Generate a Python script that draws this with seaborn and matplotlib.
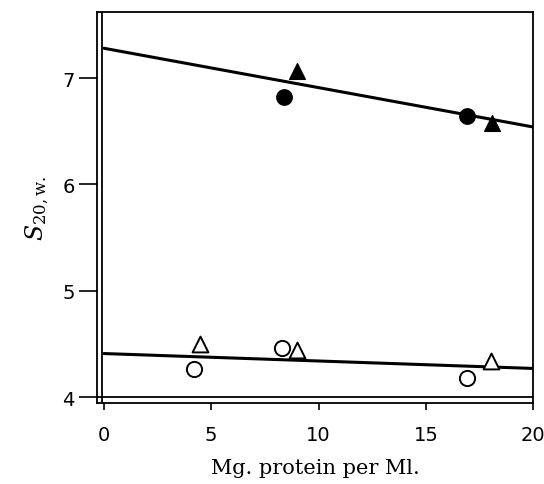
import matplotlib
matplotlib.use("Agg")
import matplotlib.pyplot as plt
import seaborn as sns
import pandas as pd

# data
filled_circle_x = [8.4, 16.9]
filled_circle_y = [6.82, 6.64]
filled_tri_x = [9.0, 18.1]
filled_tri_y = [7.07, 6.58]
open_circle_x = [4.2, 8.3, 16.9]
open_circle_y = [4.26, 4.46, 4.18]
open_tri_x = [4.5, 9.0, 18.05]
open_tri_y = [4.50, 4.44, 4.34]
fit_x = [0, 20]
fit_upper = [7.28, 6.54]
fit_lower = [4.41, 4.27]
x_ticks = [0, 5, 10, 15, 20]
y_ticks = [4, 5, 6, 7]

sns.set_style("white")
plt.rcParams["mathtext.fontset"] = "dejavuserif"
plt.rcParams["text.color"] = "black"
plt.rcParams["axes.labelcolor"] = "black"
plt.rcParams["xtick.color"] = "black"
plt.rcParams["ytick.color"] = "black"

fig = plt.figure(figsize=(5.44, 4.85), dpi=100)
ax = fig.add_axes([0.178, 0.167, 0.802, 0.806])

lines = pd.DataFrame({"x": fit_x + fit_x,
                      "y": fit_upper + fit_lower,
                      "g": ["u", "u", "l", "l"]})
sns.lineplot(data=lines, x="x", y="y", units="g", estimator=None,
             color="black", lw=2.2, ax=ax, legend=False)

sns.scatterplot(x=filled_circle_x, y=filled_circle_y, marker="o", s=125,
                color="black", edgecolor="black", ax=ax, zorder=3)
sns.scatterplot(x=filled_tri_x, y=filled_tri_y, marker="^", s=130,
                color="black", edgecolor="black", ax=ax, zorder=3)
sns.scatterplot(x=open_circle_x, y=open_circle_y, marker="o", s=120,
                facecolor="white", edgecolor="black", linewidth=1.4, ax=ax, zorder=3)
sns.scatterplot(x=open_tri_x, y=open_tri_y, marker="^", s=130,
                facecolor="white", edgecolor="black", linewidth=1.4, ax=ax, zorder=3)

ax.set_xlim(-0.33, 20.0)
ax.set_ylim(3.945, 7.62)

# double frame lines
ax.axhline(4.0, color="black", lw=1.3, zorder=2)
ax.axvline(-0.08, color="black", lw=1.3, zorder=2)

for sp in ax.spines.values():
    sp.set_color("black")
    sp.set_linewidth(1.3)

ax.set_xticks(x_ticks)
ax.set_yticks(y_ticks)
ax.tick_params(axis="x", direction="out", length=5, width=1.2, pad=11,
               labelsize=14, bottom=True, labelcolor="black")
ax.tick_params(axis="y", direction="out", length=13, width=1.2, pad=3,
               labelsize=14, left=True, labelcolor="black")

ax.set_xlabel("Mg. protein per Ml.", fontsize=15, family="DejaVu Serif",
              labelpad=10, color="black")
ax.set_ylabel(r"$S_{20,\mathrm{w.}}$", fontsize=17, labelpad=8, color="black")

fig.savefig("out.png", dpi=100)
